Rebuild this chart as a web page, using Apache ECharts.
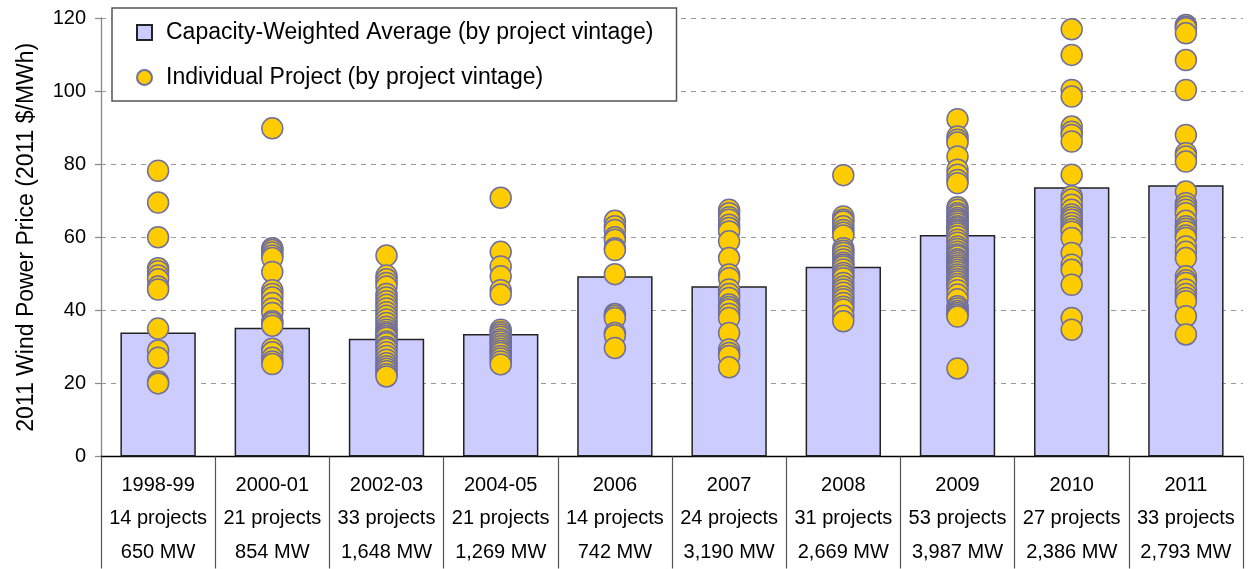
<!DOCTYPE html>
<html>
<head>
<meta charset="utf-8">
<script src="https://cdn.jsdelivr.net/npm/echarts@6/dist/echarts.min.js"></script>
<style>
  html, body { margin: 0; padding: 0; background: #fff; }
  #main { width: 1248px; height: 569px; }
</style>
</head>
<body>
<div id="main"></div>
<script>
const vintages = ['1998-99', '2000-01', '2002-03', '2004-05', '2006', '2007', '2008', '2009', '2010', '2011'];
const projectCounts = ['14 projects', '21 projects', '33 projects', '21 projects', '14 projects', '24 projects', '31 projects', '53 projects', '27 projects', '33 projects'];
const capacities = ['650 MW', '854 MW', '1,648 MW', '1,269 MW', '742 MW', '3,190 MW', '2,669 MW', '3,987 MW', '2,386 MW', '2,793 MW'];

// capacity-weighted average price per vintage (2011 $/MWh)
const avgPrice = [33.9, 35.2, 32.2, 33.5, 49.3, 46.6, 51.9, 60.6, 73.7, 74.2];

// individual project prices per vintage
const p1998 = [78.2, 69.5, 60, 51.5, 50.7, 49.5, 48.5, 46.5, 45.7, 35, 29, 27, 20.5, 20];
const p2000 = [89.8, 57, 56.5, 55.8, 55, 54.3, 50.5, 45.5, 44.5, 43.5, 42, 40.5, 39.3, 37, 36.5, 35.8, 29.5, 28.5, 27, 26, 25.3];
const p2002 = [55, 49.5, 48.5, 47.5, 46.5, 44.5, 43.5, 42.5, 41.5, 40.5, 39.5, 38.5, 37.5, 36.5, 35.5, 34.7, 34, 33.5, 33, 32.5, 31.5, 31, 30, 29.5, 28.5, 27.5, 26.5, 25.5, 24.7, 24, 23.3, 22.5, 21.9];
const p2004 = [70.8, 56, 52, 49.3, 45.5, 44.3, 34.7, 34, 33.4, 32.8, 32, 31.5, 30.8, 30.2, 29.5, 28.9, 28.3, 27.5, 26.8, 26, 25.2];
const p2006 = [64.5, 63, 62, 60, 59.3, 57, 56.5, 49.9, 39, 38.5, 37.9, 33.8, 33.2, 29.7];
const p2007 = [67.5, 66.6, 65.5, 64.8, 63.4, 62.5, 61.6, 58.9, 54.3, 49.8, 48.8, 45.7, 44.5, 43.4, 41.6, 40.9, 40.2, 39, 37.9, 33.8, 29.3, 28.3, 27.5, 24.4];
const p2008 = [77, 65.7, 64.8, 64.3, 63, 62, 61.2, 60.5, 57, 56.3, 55.7, 54.8, 53.9, 53, 52.5, 52, 51.2, 50.2, 49.5, 48.8, 47.5, 46.5, 45.7, 44.8, 43.8, 43, 42, 41, 40.2, 38.5, 37];
const p2009 = [92.3, 87.6, 86.7, 85.9, 82.1, 78.5, 77.1, 75.7, 74.8, 68.2, 67.5, 66.6, 66, 65.3, 64.8, 64.3, 63.7, 63, 62.5, 62, 61.6, 61, 60.3, 59.3, 58.5, 57.5, 56.8, 56, 55.3, 54.8, 54, 53.5, 52.9, 52.3, 51.7, 51.1, 50.5, 49.8, 49.2, 48.5, 47.9, 47.2, 46.5, 45.5, 44.3, 43, 41.1, 40.5, 39.8, 39.3, 38.8, 38.3, 24.1];
const p2010 = [116.9, 109.9, 100.3, 98.5, 90.3, 88.9, 88, 86.2, 77.1, 71.2, 70.3, 68.9, 67.5, 66.2, 65.5, 64.8, 63.9, 63, 62.2, 61.5, 59.8, 55.7, 52.5, 51.1, 47, 37.9, 34.7];
const p2011 = [118.1, 117.6, 117.2, 115.8, 108.5, 100.3, 88, 83, 82.1, 80.7, 72.5, 69.3, 68.4, 67.5, 66.6, 64.5, 63, 62.3, 61.6, 60.5, 59.8, 57.5, 56, 54.3, 49.3, 48.2, 47.5, 45.7, 44.5, 43.4, 42.5, 38.4, 33.4];

const yTicks = { min: 0, max: 120, interval: 20 };

const projectPrices = [p1998, p2000, p2002, p2004, p2006, p2007, p2008, p2009, p2010, p2011];
const scatterData = [];
projectPrices.forEach((arr, i) => {
  arr.forEach(v => scatterData.push([i, v]));
});

const FONT = "'Liberation Sans', Arial, sans-serif";

const chart = echarts.init(document.getElementById('main'), null, { renderer: 'canvas' });

chart.setOption({
  backgroundColor: '#fff',
  animation: false,
  textStyle: { fontFamily: FONT },
  grid: { left: 101, right: 5, top: 18, bottom: 112, containLabel: false },
  legend: {
    orient: 'vertical',
    left: 112,
    top: 8,
    padding: [13, 23, 12, 24],
    itemGap: 22,
    itemWidth: 15,
    itemHeight: 15,
    backgroundColor: '#fff',
    borderColor: '#555',
    borderWidth: 1.5,
    textStyle: { fontSize: 23, color: '#000', fontFamily: FONT, padding: [0, 0, 0, 9] },
    data: [
      { name: 'Capacity-Weighted Average (by project vintage)', icon: 'rect' },
      { name: 'Individual Project (by project vintage)', icon: 'circle' }
    ]
  },
  xAxis: {
    type: 'category',
    data: vintages,
    boundaryGap: true,
    axisLine: { lineStyle: { color: '#000', width: 1.3 } },
    axisTick: {
      show: true,
      length: 112,
      alignWithLabel: false,
      interval: 0,
      lineStyle: { color: '#555', width: 1.2 }
    },
    axisLabel: {
      interval: 0,
      margin: 12,
      fontSize: 20,
      lineHeight: 33.5,
      color: '#000',
      fontFamily: FONT,
      formatter: (v, i) => v + '\n' + projectCounts[i] + '\n' + capacities[i]
    },
    splitLine: { show: false }
  },
  yAxis: {
    type: 'value',
    min: yTicks.min,
    max: yTicks.max,
    interval: yTicks.interval,
    name: '2011 Wind Power Price (2011 $/MWh)',
    nameLocation: 'middle',
    nameGap: 63,
    nameTextStyle: { fontSize: 23, color: '#000', fontFamily: FONT },
    axisLine: { show: true, lineStyle: { color: '#888', width: 1.3 } },
    axisTick: { show: true, length: 6, lineStyle: { color: '#888', width: 1.2 } },
    axisLabel: { margin: 15, fontSize: 20, color: '#000', fontFamily: FONT },
    splitLine: { show: true, lineStyle: { color: '#999', type: [5, 5], width: 1 } }
  },
  series: [
    {
      name: 'Capacity-Weighted Average (by project vintage)',
      type: 'bar',
      barWidth: '66%',
      data: avgPrice,
      itemStyle: { color: '#ccccff', borderColor: '#222', borderWidth: 1.5 },
      z: 2
    },
    {
      name: 'Individual Project (by project vintage)',
      type: 'scatter',
      symbol: 'circle',
      symbolSize: 21,
      data: scatterData,
      itemStyle: { color: '#ffcc00', borderColor: '#6f6f9f', borderWidth: 1.5, opacity: 1 },
      z: 3
    }
  ]
});
</script>
</body>
</html>
